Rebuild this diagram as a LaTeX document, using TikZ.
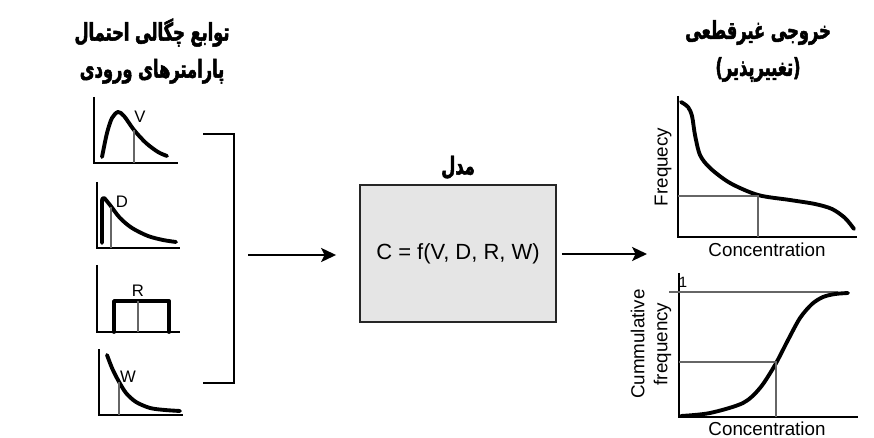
\documentclass[tikz,border=0pt]{standalone}
\usepackage{fontspec}
\setmainfont{Liberation Sans}
\newfontfamily\farsi[Script=Arabic, FakeStretch=0.66, FakeBold=2]{DejaVu Sans Bold}
\TeXXeTstate=1
\usetikzlibrary{arrows.meta, positioning}

\tikzset{
    axis/.style={line width=1.1pt},
    curve/.style={line width=2.2pt, line cap=round, line join=round},
    guide/.style={line width=0.6pt, gray!80!black},
    faTitle/.style={font=\farsi\fontsize{14}{21}\selectfont, align=center},
    tag/.style={font=\fontsize{9.5}{11}\selectfont, inner sep=0pt},
    axislabel/.style={font=\fontsize{10.7}{13}\selectfont, inner sep=0pt, align=center},
    arr/.style={line width=1.2pt, -{Stealth[length=8.5pt, width=8pt, inset=2pt]}},
    modelbox/.style={draw=gray!30!black, fill=gray!20, line width=1.1pt,
        minimum width=3.92cm, minimum height=2.74cm,
        font=\fontsize{12.5}{15}\selectfont}
}

\begin{document}
\begin{tikzpicture}[x=0.02cm, y=-0.02cm]
    \useasboundingbox (0,0) rectangle (874,438);

    % titles
    \node[faTitle] (inTitle) at (152,51) {\beginR توابع چگالی احتمال\endR\\\beginR پارامترهای ورودی\endR};
    \node[faTitle] (outTitle) at (758,51) {\beginR خروجی غیرقطعی\endR\\\beginR (تغییرپذیر)\endR};

    % input densities
    \draw[axis] (94,97) -- (94,163) -- (178,163);
    \draw[curve] plot[smooth] coordinates {(102,157) (107,133) (112,118) (118,112) (124,116) (134,130) (146,143) (158,152) (167,156)};
    \draw[guide] (134,130) -- (134,163);
    \node[tag] (tagV) at (140,117) {V};

    \draw[axis] (97,182) -- (97,248) -- (180,248);
    \draw[curve] (102,243) -- (102,200) plot[smooth] coordinates {(102,200) (104,198) (110,205) (120,218) (132,228) (148,236) (163,240) (176,242)};
    \draw[guide] (111,207) -- (111,248);
    \node[tag] (tagD) at (122,202) {D};

    \draw[axis] (97,265) -- (97,332) -- (180,332);
    \draw[curve] (114,332) -- (114,301) -- (169,301) -- (169,332);
    \draw[guide] (138,301) -- (138,332);
    \node[tag] (tagR) at (138,291) {R};

    \draw[axis] (99,349) -- (99,415) -- (183,415);
    \draw[curve] plot[smooth] coordinates {(107,355) (112,368) (118,380) (126,393) (136,402) (150,408) (165,410) (180,411)};
    \draw[guide] (119,382) -- (119,415);
    \node[tag] (tagW) at (128,377) {W};

    \draw[axis] (203,134) -- (234,134) -- (234,383) -- (203,383);

    % model
    \node[modelbox] (model) at (458,253.5) {C = f(V, D, R, W)};
    \node[font=\farsi\fontsize{14}{15}\selectfont, inner sep=1pt, above=0.06cm of model] (modelTitle) {\beginR مدل\endR};
    \coordinate (inArrow) at (248,255);
    \coordinate (outArrow) at (647,254);
    \draw[arr, shorten >=0.46cm] (inArrow) -- (model.west |- inArrow);
    \draw[arr, shorten <=0.1cm] (model.east |- outArrow) -- (outArrow);

    % output frequency
    \draw[axis] (678,96) -- (678,237) -- (857,237);
    \draw[curve] plot[smooth] coordinates {(681,102) (688,107) (692,116) (695,135) (700,155) (710,168) (730,183) (758,195) (790,200) (815,204) (832,209) (845,218) (854,229)};
    \draw[guide] (678,196) -- (758,196) -- (758,237);
    \node[axislabel, rotate=90] (freqLabel) at (663,167) {Frequecy};
    \node[axislabel] (concTop) at (767,250) {Concentration};

    % output cumulative
    \draw[axis] (679,273) -- (679,417) -- (858,417);
    \draw[guide] (669,292) -- (838,292);
    \node[tag, font=\fontsize{8.5}{10}\selectfont] (one) at (683,282) {1};
    \draw[curve] plot[smooth] coordinates {(681,416) (710,413) (743,403) (760,388) (775,365) (788,340) (800,318) (812,304) (823,297) (835,294) (848,293)};
    \draw[guide] (679,362) -- (776,362) -- (776,417);
    \node[axislabel, rotate=90] (cumLabel) at (651,344) {Cummulative\\frequency};
    \node[axislabel] (concBottom) at (767,429) {Concentration};
\end{tikzpicture}
\end{document}
